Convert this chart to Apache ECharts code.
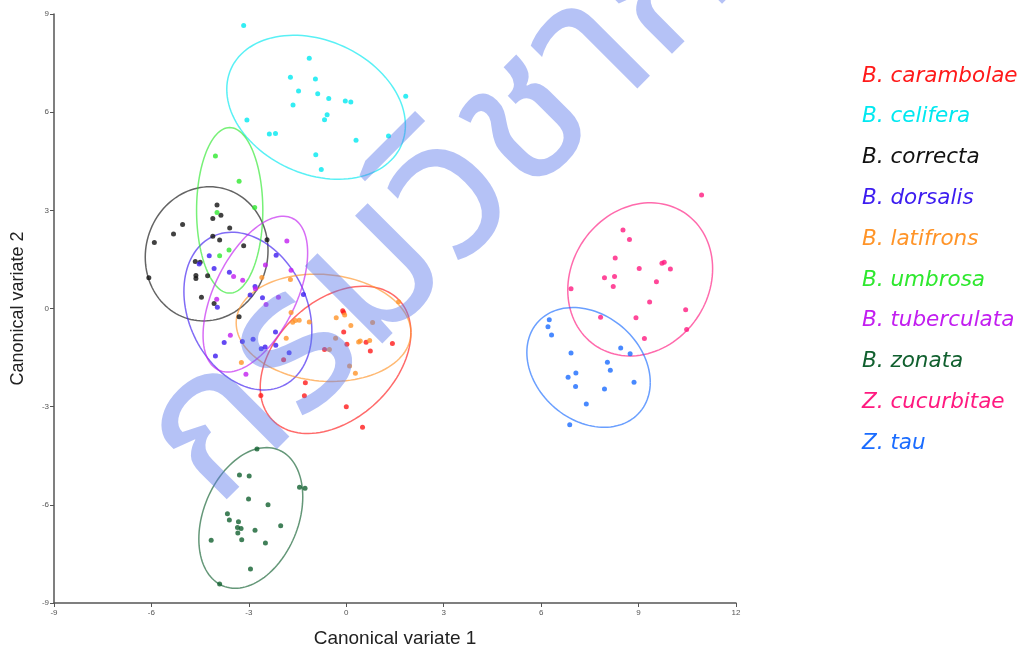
<!DOCTYPE html>
<html>
<head>
<meta charset="utf-8">
<script src="https://cdn.jsdelivr.net/npm/echarts@6/dist/echarts.min.js"></script>
<style>
  html, body { margin: 0; padding: 0; background: #fff; }
  #main { width: 1026px; height: 650px; }
</style>
</head>
<body>
<div id="main"></div>
<script>
// species and colours
var species = ['B. carambolae', 'B. celifera', 'B. correcta', 'B. dorsalis', 'B. latifrons',
  'B. umbrosa', 'B. tuberculata', 'B. zonata', 'Z. cucurbitae', 'Z. tau'];
var colors = ['#ff1a1a', '#00e8f0', '#111111', '#3c1cf0', '#ff9428',
  '#2ee82e', '#c21ef0', '#11602f', '#ff1a80', '#1a6cff'];

// canonical scores (CV1, CV2)
var ptsCarambolae = [[-0.11,-0.07],[-0.08,-0.12],[-0.08,-0.72],[1.42,-1.07],[0.74,-1.30],[-1.93,-1.57],
  [0.00,-3.00],[0.50,-3.63],[-2.63,-2.66],[0.02,-1.09],[0.61,-1.03],[-0.67,-1.25],[-1.26,-2.27],[-1.29,-2.67]];
var ptsCelifera = [[-3.16,8.65],[-1.14,7.65],[-1.72,7.07],[-0.95,7.01],[-1.47,6.65],[-0.88,6.56],[-0.54,6.42],
  [-1.64,6.22],[-0.03,6.34],[0.14,6.31],[1.83,6.49],[-0.59,5.92],[-0.67,5.77],[-3.06,5.76],[-2.37,5.33],
  [-2.18,5.35],[0.30,5.14],[1.30,5.27],[-0.94,4.70],[-0.77,4.25]];
var ptsCorrecta = [[-3.98,3.16],[-3.86,2.85],[-4.11,2.75],[-5.04,2.57],[-5.32,2.28],[-3.59,2.46],[-5.91,2.02],
  [-4.11,2.21],[-3.90,2.09],[-2.44,2.10],[-3.16,1.92],[-6.08,0.94],[-4.65,1.44],[-4.50,1.41],[-4.63,1.01],
  [-4.63,0.92],[-4.27,1.00],[-4.46,0.34],[-4.07,0.15],[-3.30,-0.25]];
var ptsDorsalis = [[-4.22,1.61],[-4.53,1.36],[-4.07,1.22],[-3.60,1.11],[-2.16,1.63],[-2.81,0.67],[-2.96,0.41],
  [-2.58,0.33],[-3.97,0.04],[-1.32,0.43],[-2.18,-0.72],[-2.87,-0.94],[-3.20,-1.01],[-3.76,-1.04],[-2.62,-1.23],
  [-2.50,-1.18],[-2.17,-1.12],[-1.76,-1.35],[-4.03,-1.45]];
var ptsLatifrons = [[-1.72,0.89],[-2.60,0.95],[1.61,0.21],[-0.31,-0.28],[-0.05,-0.20],[0.14,-0.52],[-0.33,-0.91],
  [-1.85,-0.91],[0.10,-1.76],[0.28,-1.98],[-3.23,-1.65],[-1.65,-0.42],[-1.70,-0.12],[-1.57,-0.37],[-1.45,-0.36],
  [-1.14,-0.41],[0.81,-0.43],[0.38,-1.02],[0.43,-0.99],[0.72,-0.98],[-0.52,-1.25]];
var ptsUmbrosa = [[-4.03,4.66],[-3.30,3.89],[-2.82,3.09],[-3.98,2.93],[-3.61,1.79],[-3.90,1.61]];
var ptsTuberculata = [[-1.83,2.06],[-1.70,1.17],[-2.49,1.33],[-3.47,0.98],[-3.19,0.86],[-2.80,0.60],[-2.09,0.34],
  [-2.47,0.12],[-3.99,0.28],[-3.57,-0.82],[-3.09,-2.01]];
var ptsZonata = [[-2.75,-4.29],[-3.29,-5.09],[-2.99,-5.12],[-1.44,-5.46],[-1.27,-5.49],[-3.01,-5.82],[-2.41,-6.00],
  [-3.66,-6.27],[-3.60,-6.46],[-3.32,-6.52],[-3.35,-6.69],[-3.24,-6.72],[-2.81,-6.78],[-2.02,-6.64],[-3.34,-6.86],
  [-3.22,-7.07],[-4.16,-7.08],[-2.49,-7.17],[-2.95,-7.96],[-3.90,-8.42]];
var ptsCucurbitae = [[10.94,3.47],[8.52,2.40],[8.72,2.11],[8.28,1.54],[9.02,1.22],[9.72,1.38],[9.79,1.41],
  [9.98,1.21],[7.95,0.94],[8.26,0.98],[8.22,0.67],[9.55,0.82],[6.92,0.60],[9.34,0.20],[10.45,-0.04],
  [7.83,-0.27],[8.92,-0.28],[10.48,-0.64],[9.18,-0.92]];
var ptsTau = [[6.25,-0.34],[6.21,-0.56],[6.32,-0.81],[6.92,-1.36],[8.45,-1.21],[8.74,-1.38],[8.04,-1.64],
  [8.13,-1.89],[7.07,-1.97],[6.83,-2.10],[8.86,-2.25],[7.06,-2.38],[7.95,-2.46],[7.39,-2.92],[6.88,-3.55]];

// 95% ellipses: centre x, centre y, half width, half height, correlation
var ellCarambolae = [-0.33, -1.57, 2.32, 2.25, 0.37];
var ellCelifera = [-0.93, 6.15, 2.75, 2.20, -0.25];
var ellCorrecta = [-4.30, 1.67, 1.89, 2.05, 0.05];
var ellDorsalis = [-3.03, -0.08, 1.97, 2.41, -0.25];
var ellLatifrons = [-0.70, -0.59, 2.69, 1.64, -0.09];
var ellUmbrosa = [-3.59, 3.00, 1.02, 2.53, 0.0];
var ellTuberculata = [-2.80, 0.44, 1.61, 2.38, 0.53];
var ellZonata = [-2.94, -6.40, 1.60, 2.15, 0.30];
var ellCucurbitae = [9.05, 0.89, 2.23, 2.34, 0.14];
var ellTau = [7.46, -1.80, 1.90, 1.83, -0.25];

var xTicks = [-9, -6, -3, 0, 3, 6, 9, 12];
var yTicks = [-9, -6, -3, 0, 3, 6, 9];

var points = [ptsCarambolae, ptsCelifera, ptsCorrecta, ptsDorsalis, ptsLatifrons,
  ptsUmbrosa, ptsTuberculata, ptsZonata, ptsCucurbitae, ptsTau];
var ellipses = [ellCarambolae, ellCelifera, ellCorrecta, ellDorsalis, ellLatifrons,
  ellUmbrosa, ellTuberculata, ellZonata, ellCucurbitae, ellTau];

// ellipse outline through the axes' scales
function renderEllipse(params, api) {
  var cx = api.value(0), cy = api.value(1), sx = api.value(2), sy = api.value(3), r = api.value(4);
  var pts = [];
  for (var i = 0; i <= 120; i++) {
    var t = i / 120 * Math.PI * 2;
    var x = cx + sx * Math.cos(t);
    var y = cy + sy * (r * Math.cos(t) + Math.sqrt(1 - r * r) * Math.sin(t));
    pts.push(api.coord([x, y]));
  }
  return {
    type: 'polyline',
    shape: { points: pts },
    style: { fill: 'none', stroke: api.visual('color'), lineWidth: 1.5, opacity: 0.65 }
  };
}

var series = [];
species.forEach(function (name, i) {
  series.push({
    name: name,
    type: 'custom',
    renderItem: renderEllipse,
    itemStyle: { color: colors[i] },
    data: [ellipses[i]],
    encode: { x: 0, y: 1 },
    silent: true,
    z: 1
  });
});
species.forEach(function (name, i) {
  series.push({
    name: name,
    type: 'scatter',
    symbolSize: 5,
    itemStyle: { color: colors[i] },
    data: points[i],
    z: 2
  });
});

var myChart = echarts.init(document.getElementById('main'), null, { renderer: 'canvas' });
var option = {
  animation: false,
  backgroundColor: '#fff',
  grid: { left: 54, right: 290, top: 14, bottom: 47, outerBoundsMode: 'none', containLabel: false },
  legend: {
    orient: 'vertical',
    left: 852,
    top: 60,
    icon: 'none',
    itemWidth: 0,
    itemHeight: 22,
    itemGap: 18.8,
    data: species.map(function (n, i) {
      return { name: n, textStyle: { color: colors[i] } };
    }),
    textStyle: { fontFamily: 'DejaVu Sans', fontStyle: 'italic', fontSize: 21.5, lineHeight: 22 }
  },
  xAxis: {
    type: 'value', min: -9, max: 12, interval: 3,
    name: 'Canonical variate 1', nameLocation: 'middle', nameGap: 26,
    nameTextStyle: { fontFamily: 'Liberation Sans', fontSize: 19, color: '#222' },
    axisLine: { onZero: false, lineStyle: { color: '#555', width: 1.5 } },
    axisTick: { length: 4, lineStyle: { color: '#555' } },
    axisLabel: { fontSize: 8, color: '#555', margin: 6,
      formatter: function (v) { return xTicks.indexOf(v) >= 0 ? String(v) : ''; } },
    splitLine: { show: false }
  },
  yAxis: {
    type: 'value', min: -9, max: 9, interval: 3,
    name: 'Canonical variate 2', nameLocation: 'middle', nameGap: 27,
    nameTextStyle: { fontFamily: 'Liberation Sans', fontSize: 18, color: '#222' },
    axisLine: { onZero: false, lineStyle: { color: '#555', width: 1.5 } },
    axisTick: { length: 4, lineStyle: { color: '#555' } },
    axisLabel: { fontSize: 8, color: '#555', margin: 5,
      formatter: function (v) { return yTicks.indexOf(v) >= 0 ? String(v) : ''; } },
    splitLine: { show: false }
  },
  // watermark over the plot
  graphic: [{
    type: 'text',
    x: 258, y: 552,
    rotation: Math.PI / 4,
    z: 100,
    silent: true,
    style: {
      text: 'กรมวิชาการเกษตร',
      font: 'normal 200px "Noto Sans Thai", "Loma", "Garuda", "Norasi", sans-serif',
      fill: 'rgba(90,120,235,0.45)',
      textAlign: 'left',
      textVerticalAlign: 'bottom'
    }
  }],
  series: series
};
myChart.setOption(option);
</script>
</body>
</html>
